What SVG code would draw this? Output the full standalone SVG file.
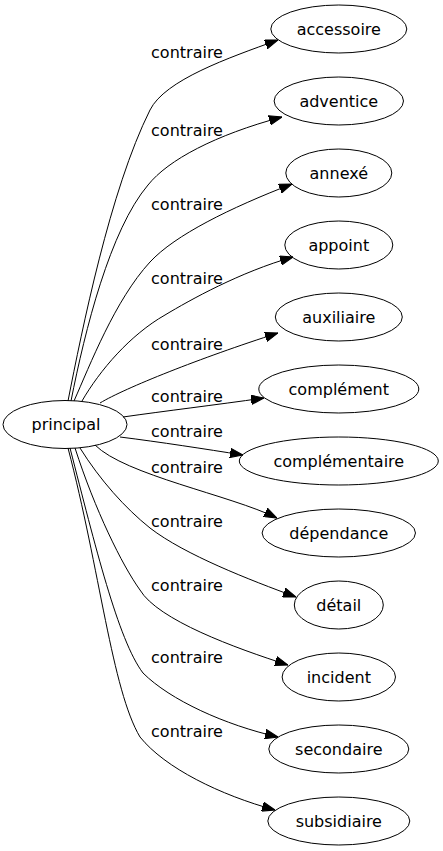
<svg xmlns="http://www.w3.org/2000/svg" width="443" height="851" viewBox="0 0 443 851">
<style>
.n ellipse{fill:none;stroke:#000;stroke-width:1}
text{font-family:"DejaVu Sans",sans-serif;font-size:16px;fill:#000;text-anchor:middle}
.e path{fill:none;stroke:#000;stroke-width:1;marker-end:url(#ah)}
</style>
<defs>
<marker id="ah" viewBox="0 0 13 10" refX="13" refY="5" markerWidth="13" markerHeight="10" markerUnits="userSpaceOnUse" orient="auto">
<path d="M0,0.3 L13,5 L0,9.7 z" fill="#000" stroke="#000" stroke-width="1"/>
</marker>
</defs>
<g id="edges" class="e">
<path d="M68,401 C82,330 110,190 150,110 C165,80 228,58 278,40"/>
<path d="M71,401 C85,330 110,230 148,185 C168,160 215,135 282,117"/>
<path d="M74,401 C90,365 115,300 150,262 C175,235 230,208 292,184"/>
<path d="M82,401 C100,370 130,335 165,315 C190,300 240,272 293,257"/>
<path d="M100,403 C125,388 200,358 278,333"/>
<path d="M123,417 C165,411 215,405 264,398"/>
<path d="M120,437 C160,442 205,449 243,455"/>
<path d="M95,445 C125,475 230,495 277,518"/>
<path d="M80,448 C100,480 125,508 150,528 C185,555 250,580 296,597"/>
<path d="M75,448 C95,510 122,565 140,590 C158,620 235,648 288,665"/>
<path d="M70,448 C95,545 118,640 143,673 C170,700 225,725 278,737"/>
<path d="M68,448 C100,570 112,690 140,737 C165,768 220,795 275,810"/>
</g>
<g id="labels">
<text x="187" y="58">contraire</text>
<text x="187" y="136">contraire</text>
<text x="187" y="210">contraire</text>
<text x="187" y="284">contraire</text>
<text x="187" y="350">contraire</text>
<text x="187" y="402">contraire</text>
<text x="187" y="437">contraire</text>
<text x="187" y="473">contraire</text>
<text x="187" y="527">contraire</text>
<text x="187" y="591">contraire</text>
<text x="187" y="663">contraire</text>
<text x="187" y="737">contraire</text>
</g>
<g id="principal" class="n"><ellipse cx="65" cy="424.5" rx="62" ry="24"/><text x="66" y="430">principal</text></g>
<g id="accessoire" class="n"><ellipse cx="338.8" cy="29" rx="68" ry="24"/><text x="338.8" y="35">accessoire</text></g>
<g id="adventice" class="n"><ellipse cx="338.8" cy="101" rx="64.7" ry="24"/><text x="338.8" y="107">adventice</text></g>
<g id="annexe" class="n"><ellipse cx="338.8" cy="173" rx="53" ry="24"/><text x="338.8" y="179">annexé</text></g>
<g id="appoint" class="n"><ellipse cx="338.8" cy="245" rx="54" ry="24"/><text x="338.8" y="251">appoint</text></g>
<g id="auxiliaire" class="n"><ellipse cx="338.8" cy="317" rx="63.5" ry="24"/><text x="338.8" y="323">auxiliaire</text></g>
<g id="complement" class="n"><ellipse cx="338.8" cy="389" rx="80" ry="24"/><text x="338.8" y="395">complément</text></g>
<g id="complementaire" class="n"><ellipse cx="338.8" cy="461" rx="99.5" ry="24"/><text x="338.8" y="467">complémentaire</text></g>
<g id="dependance" class="n"><ellipse cx="338.8" cy="533" rx="76.7" ry="24"/><text x="338.8" y="539">dépendance</text></g>
<g id="detail" class="n"><ellipse cx="338.8" cy="605" rx="44.5" ry="24"/><text x="338.8" y="611">détail</text></g>
<g id="incident" class="n"><ellipse cx="338.8" cy="677" rx="56.7" ry="24"/><text x="338.8" y="683">incident</text></g>
<g id="secondaire" class="n"><ellipse cx="338.8" cy="749" rx="70" ry="24"/><text x="338.8" y="755">secondaire</text></g>
<g id="subsidiaire" class="n"><ellipse cx="338.8" cy="821" rx="71" ry="24"/><text x="338.8" y="827">subsidiaire</text></g>
</svg>
